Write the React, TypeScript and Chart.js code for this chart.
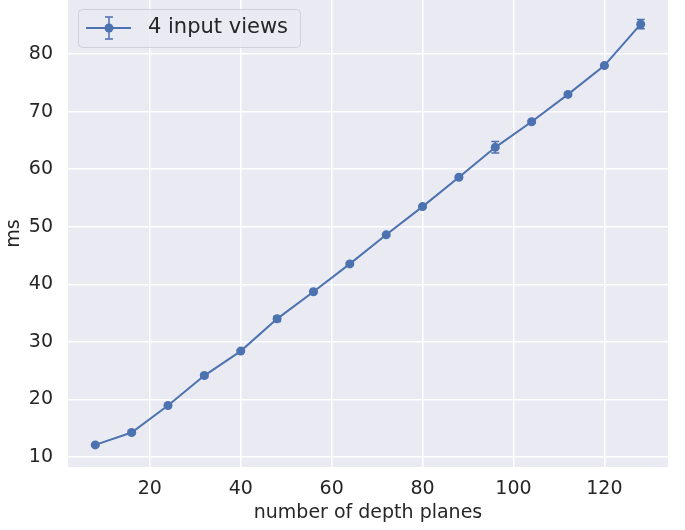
import React, { useEffect, useRef } from "react";
import { Chart, registerables } from "chart.js";

Chart.register(...registerables);

const depthPlanes = [8, 16, 24, 32, 40, 48, 56, 64, 72, 80, 88, 96, 104, 112, 120, 128];
const meanMs = [12.1, 14.25, 18.95, 24.15, 28.4, 34.0, 38.7, 43.55, 48.6, 53.5, 58.6, 63.8, 68.25, 73.0, 78.0, 85.2];
const errMs = [0.2, 0.3, 0.2, 0.3, 0.2, 0.45, 0.2, 0.2, 0.2, 0.2, 0.2, 1.0, 0.2, 0.2, 0.2, 0.8];
const xTicks = [20, 40, 60, 80, 100, 120];
const yTicks = [10, 20, 30, 40, 50, 60, 70, 80];
const seriesLabel = "4 input views";
const xTitle = "number of depth planes";
const yTitle = "ms";

const BLUE = "#4c72b0";
const BG = "#eaeaf2";
const FONT = "'DejaVu Sans', sans-serif";

const bgPlugin = {
  id: "bgPlugin",
  beforeDraw(chart: any) {
    const { ctx, chartArea } = chart;
    ctx.save();
    ctx.fillStyle = BG;
    ctx.fillRect(chartArea.left, chartArea.top, chartArea.right - chartArea.left, chartArea.bottom - chartArea.top);
    ctx.restore();
  },
};

function drawErrorBar(ctx: any, x: number, y1: number, y2: number, cap: number) {
  ctx.beginPath();
  ctx.moveTo(x, y1);
  ctx.lineTo(x, y2);
  ctx.moveTo(x - cap, y1);
  ctx.lineTo(x + cap, y1);
  ctx.moveTo(x - cap, y2);
  ctx.lineTo(x + cap, y2);
  ctx.stroke();
}

const errorPlugin = {
  id: "errorPlugin",
  afterDatasetsDraw(chart: any) {
    const { ctx, scales } = chart;
    ctx.save();
    ctx.strokeStyle = BLUE;
    ctx.lineWidth = 1.5;
    depthPlanes.forEach((d, i) => {
      const x = scales.x.getPixelForValue(d);
      const yHi = scales.y.getPixelForValue(meanMs[i] + errMs[i]);
      const yLo = scales.y.getPixelForValue(meanMs[i] - errMs[i]);
      drawErrorBar(ctx, x, yHi, yLo, 4);
    });
    ctx.restore();
  },
};

const legendPlugin = {
  id: "legendPlugin",
  afterDraw(chart: any) {
    const { ctx, chartArea } = chart;
    const bx = chartArea.left + 10;
    const by = chartArea.top + 9;
    const bw = 222;
    const bh = 38;
    ctx.save();
    ctx.fillStyle = "rgba(234,234,242,0.8)";
    ctx.strokeStyle = "#d0d0d8";
    ctx.lineWidth = 1;
    ctx.beginPath();
    (ctx as any).roundRect(bx + 0.5, by + 0.5, bw, bh, 4);
    ctx.fill();
    ctx.stroke();
    const cy = by + bh / 2;
    ctx.strokeStyle = BLUE;
    ctx.lineWidth = 2;
    ctx.beginPath();
    ctx.moveTo(bx + 8, cy);
    ctx.lineTo(bx + 53, cy);
    ctx.stroke();
    ctx.lineWidth = 1.5;
    drawErrorBar(ctx, bx + 31, cy - 11, cy + 11, 4);
    ctx.fillStyle = BLUE;
    ctx.beginPath();
    ctx.arc(bx + 31, cy, 4.5, 0, Math.PI * 2);
    ctx.fill();
    ctx.fillStyle = "#262626";
    ctx.font = `21px ${FONT}`;
    ctx.textBaseline = "middle";
    ctx.textAlign = "left";
    ctx.fillText(seriesLabel, bx + 70, cy);
    ctx.restore();
  },
};

export default function App() {
  const ref = useRef<HTMLCanvasElement | null>(null);
  useEffect(() => {
    document.body.style.margin = "0";
    const canvas = ref.current!;
    const chart = new Chart(canvas, {
      type: "line",
      data: {
        datasets: [
          {
            label: seriesLabel,
            data: depthPlanes.map((d, i) => ({ x: d, y: meanMs[i] })),
            borderColor: BLUE,
            backgroundColor: BLUE,
            borderWidth: 2,
            pointRadius: 4.5,
            pointBorderWidth: 0,
            pointBackgroundColor: BLUE,
            tension: 0,
          },
        ],
      },
      options: {
        animation: false,
        responsive: false,
        maintainAspectRatio: false,
        layout: { autoPadding: false, padding: { left: 0, right: 17, top: 0, bottom: 0 } },
        plugins: { legend: { display: false }, tooltip: { enabled: false } },
        scales: {
          x: {
            type: "linear",
            min: 2,
            max: 134,
            afterBuildTicks(scale: any) {
              scale.ticks = xTicks.map((v) => ({ value: v }));
            },
            afterFit(scale: any) {
              scale.height = 63;
              scale.paddingLeft = 0;
              scale.paddingRight = 0;
            },
            grid: { color: "#ffffff", lineWidth: 1.5, drawTicks: false },
            border: { display: false },
            ticks: { color: "#262626", font: { family: FONT, size: 19 }, padding: 11, maxRotation: 0 },
            title: {
              display: true,
              text: xTitle,
              color: "#262626",
              font: { family: FONT, size: 19 },
              padding: { top: 0, bottom: 6 },
            },
          },
          y: {
            type: "linear",
            min: 8.26,
            max: 89.4,
            afterBuildTicks(scale: any) {
              scale.ticks = yTicks.map((v) => ({ value: v }));
            },
            afterFit(scale: any) {
              scale.width = 68;
              scale.paddingTop = 0;
              scale.paddingBottom = 0;
            },
            grid: { color: "#ffffff", lineWidth: 1.5, drawTicks: false },
            border: { display: false },
            ticks: { color: "#262626", font: { family: FONT, size: 19 }, padding: 15 },
            title: {
              display: true,
              text: yTitle,
              color: "#262626",
              font: { family: FONT, size: 19 },
              padding: { top: 3, bottom: 0 },
            },
          },
        },
      },
      plugins: [bgPlugin, errorPlugin, legendPlugin],
    });
    return () => chart.destroy();
  }, []);
  return <canvas ref={ref} width={685} height={530} style={{ display: "block" }} />;
}
